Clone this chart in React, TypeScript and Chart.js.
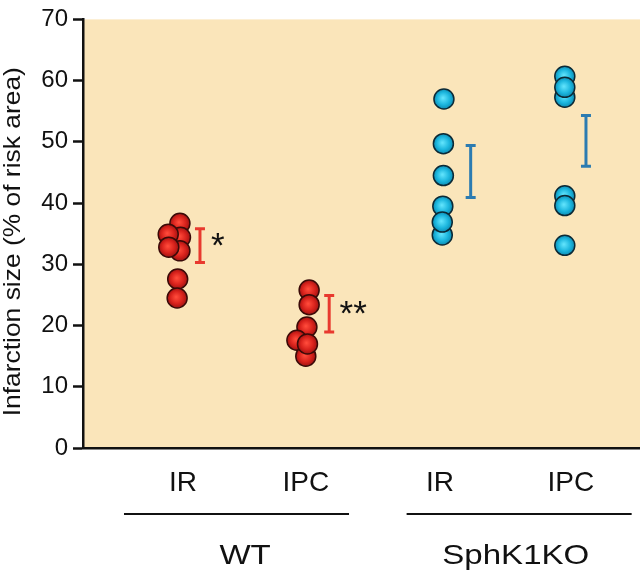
import React, { useEffect, useRef } from "react";
import { Chart, registerables } from "chart.js";

Chart.register(...registerables);

// ---- data ----
const groupNames = ["WT", "SphK1KO"];
const categoryNames = ["IR", "IPC", "IR", "IPC"];
const categoryX = [1.72, 4.03, 6.46, 8.65];

const wtIR = [36.7, 34.4, 32.2, 34.9, 32.8, 27.6, 24.5];
const wtIRJitter = [0.02, 0.03, 0.02, -0.19, -0.18, -0.02, -0.03];
const wtIPC = [25.8, 23.4, 19.75, 17.6, 15.0, 17.0];
const wtIPCJitter = [0.03, 0.03, -0.01, -0.19, -0.03, 0.0];
const koIR = [57.0, 49.7, 44.5, 39.5, 34.8, 36.9];
const koIRJitter = [0.02, 0.01, 0.01, 0.0, -0.01, -0.01];
const koIPC = [60.7, 57.3, 58.9, 41.2, 39.6, 33.1];
const koIPCJitter = [0, 0, 0, 0, 0, 0];

const errX = [2.1, 4.42, 6.96, 9.03];
const errHigh = [35.8, 24.9, 49.4, 54.3];
const errLow = [30.3, 18.96, 40.9, 46.0];

const signifText = ["*", "**"];
const signifX = [2.42, 4.85];
const signifY = [34.0, 23.0];

const yTicks = [0, 10, 20, 30, 40, 50, 60, 70];
const yTitle = "Infarction size (% of risk area)";

// ---- layout / style ----
const FONT = "'Liberation Sans', Arial, Helvetica, sans-serif";
const BG = "#fae5ba";
const RED_BAR = "#e8392e";
const BLUE_BAR = "#2b7bb1";
const catLabelOffset = [0.075, -0.03, -0.05, 0.11];
const groupLabelX = [2.91, 7.77];
const groupLineFrom = [0.736, 5.81];
const groupLineTo = [4.776, 9.85];

function pts(vals: number[], jit: number[], cx: number) {
  return vals.map((v, i) => ({ x: cx + jit[i], y: v }));
}

function makeGrad(kind: "red" | "cyan") {
  return (c: any) => {
    const base = kind === "red" ? "#d8221c" : "#1db8e0";
    if (c.type !== "data" || !c.parsed) return base;
    const chart = c.chart;
    const xs = chart.scales.x;
    const ys = chart.scales.y;
    const px = xs.getPixelForValue(c.parsed.x);
    const py = ys.getPixelForValue(c.parsed.y);
    if (!isFinite(px) || !isFinite(py)) return base;
    const g = chart.ctx.createRadialGradient(px - 1, py - 1, 0.5, px, py, 11);
    if (kind === "red") {
      g.addColorStop(0, "#ff4a3a");
      g.addColorStop(0.55, "#d8221c");
      g.addColorStop(1, "#921010");
    } else {
      g.addColorStop(0, "#5fe2fb");
      g.addColorStop(0.55, "#1cb6de");
      g.addColorStop(1, "#0a82a8");
    }
    return g;
  };
}

function pointDataset(data: any[], kind: "red" | "cyan") {
  return {
    type: "scatter" as const,
    data,
    pointRadius: 10,
    pointHoverRadius: 10,
    pointBorderWidth: 1.5,
    pointBorderColor: kind === "red" ? "#3a0a08" : "#0c2a36",
    pointBackgroundColor: makeGrad(kind),
    showLine: false,
  };
}

function errDataset(i: number, color: string) {
  return {
    type: "line" as const,
    data: [
      { x: errX[i], y: errHigh[i] },
      { x: errX[i], y: errLow[i] },
    ],
    showLine: true,
    borderColor: color,
    borderWidth: 3,
    pointStyle: "line" as const,
    pointRadius: 5,
    pointHoverRadius: 5,
    pointBorderWidth: 3,
    pointBorderColor: color,
    pointBackgroundColor: color,
    fill: false,
  };
}

const decor = {
  id: "decor",
  beforeDraw(chart: any) {
    const { ctx, chartArea: a } = chart;
    ctx.save();
    ctx.fillStyle = BG;
    ctx.fillRect(a.left, a.top, a.right - a.left, a.bottom - a.top);
    ctx.restore();
  },
  afterDraw(chart: any) {
    const { ctx, chartArea: a } = chart;
    const xs = chart.scales.x;
    const ys = chart.scales.y;
    ctx.save();
    ctx.fillStyle = "#111";
    // significance marks
    ctx.font = `35px ${FONT}`;
    ctx.textAlign = "center";
    ctx.textBaseline = "alphabetic";
    signifText.forEach((t, i) => {
      const m = ctx.measureText(t);
      const asc = m.actualBoundingBoxAscent;
      const desc = m.actualBoundingBoxDescent;
      const cy = ys.getPixelForValue(signifY[i]);
      ctx.fillText(t, xs.getPixelForValue(signifX[i]), cy + (asc - desc) / 2);
    });
    // category labels
    ctx.font = `28px ${FONT}`;
    categoryNames.forEach((t, i) => {
      ctx.fillText(t, xs.getPixelForValue(categoryX[i] + catLabelOffset[i]), a.bottom + 43);
    });
    // group lines
    ctx.strokeStyle = "#111";
    ctx.lineWidth = 2;
    groupNames.forEach((_, i) => {
      const y = a.bottom + 66;
      ctx.beginPath();
      ctx.moveTo(xs.getPixelForValue(groupLineFrom[i]), y);
      ctx.lineTo(xs.getPixelForValue(groupLineTo[i]), y);
      ctx.stroke();
    });
    // group labels
    groupNames.forEach((t, i) => {
      ctx.save();
      ctx.translate(xs.getPixelForValue(groupLabelX[i]), a.bottom + 116);
      ctx.scale(1.18, 1);
      ctx.font = `28px ${FONT}`;
      ctx.fillText(t, 0, 0);
      ctx.restore();
    });
    // y title
    ctx.save();
    ctx.translate(20, (a.top + a.bottom) / 2 + 8);
    ctx.rotate(-Math.PI / 2);
    ctx.scale(1.1, 1);
    ctx.font = `24px ${FONT}`;
    ctx.textAlign = "center";
    ctx.fillText(yTitle, 0, 0);
    ctx.restore();
    ctx.restore();
  },
};

export default function App() {
  const ref = useRef<HTMLCanvasElement>(null);
  useEffect(() => {
    if (!ref.current) return;
    const chart = new Chart(ref.current, {
      type: "scatter",
      data: {
        datasets: [
          errDataset(0, RED_BAR),
          errDataset(1, RED_BAR),
          errDataset(2, BLUE_BAR),
          errDataset(3, BLUE_BAR),
          pointDataset(pts(wtIR, wtIRJitter, categoryX[0]), "red"),
          pointDataset(pts(wtIPC, wtIPCJitter, categoryX[1]), "red"),
          pointDataset(pts(koIR, koIRJitter, categoryX[2]), "cyan"),
          pointDataset(pts(koIPC, koIPCJitter, categoryX[3]), "cyan"),
        ] as any,
      },
      options: {
        animation: false,
        responsive: false,
        events: [],
        layout: { padding: { top: 6, right: 0, left: 0, bottom: 0 }, autoPadding: false } as any,
        plugins: { legend: { display: false }, tooltip: { enabled: false }, title: { display: false } },
        scales: {
          x: {
            type: "linear",
            min: 0,
            max: 10,
            ticks: { display: false },
            grid: { display: false, drawTicks: false },
            border: { display: true, color: "#111", width: 2.5 },
            afterFit: (s: any) => {
              s.height = 127;
            },
          },
          y: {
            type: "linear",
            min: 0,
            max: 70,
            afterBuildTicks: (s: any) => {
              s.ticks = yTicks.map((v) => ({ value: v }));
            },
            ticks: {
              color: "#111",
              padding: 5,
              font: { family: FONT, size: 24 },
            },
            grid: {
              display: true,
              drawOnChartArea: false,
              drawTicks: true,
              tickLength: 10,
              tickWidth: 2.5,
              tickColor: "#111",
              color: "#111",
            },
            border: { display: true, color: "#111", width: 2.5 },
            afterFit: (s: any) => {
              s.width = 83;
            },
          },
        },
      },
      plugins: [decor],
    });
    return () => chart.destroy();
  }, []);
  return (
    <div style={{ position: "absolute", left: 0, top: 0, width: 640, height: 575 }}>
      <canvas ref={ref} width={640} height={575} style={{ display: "block" }} />
    </div>
  );
}
